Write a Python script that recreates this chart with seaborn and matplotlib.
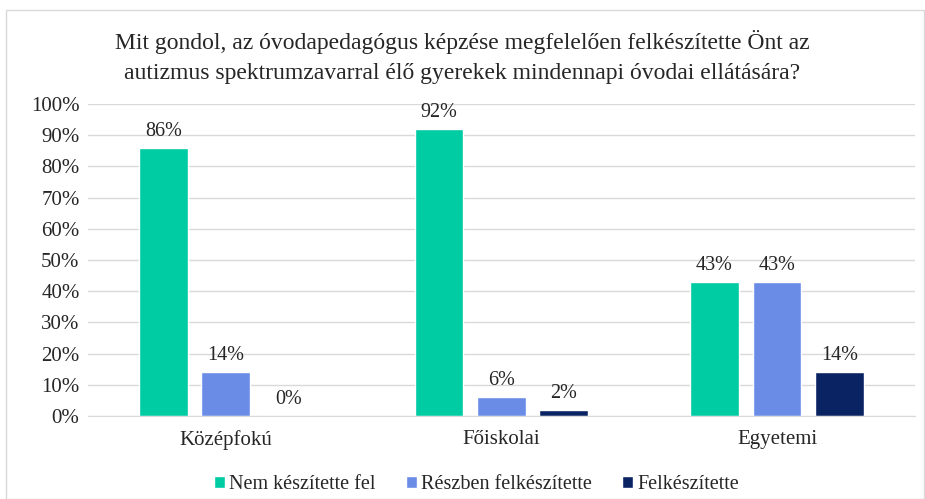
import matplotlib
matplotlib.use("Agg")
import matplotlib.pyplot as plt
import matplotlib.patches as mpatches
import pandas as pd
import seaborn as sns

# Data
categories = ["Középfokú", "Főiskolai", "Egyetemi"]
series = ["Nem készítette fel", "Részben felkészítette", "Felkészítette"]
nem = [0.86, 0.92, 0.43]
reszben = [0.14, 0.06, 0.43]
felk = [0.00, 0.02, 0.14]
colors = ["#00CCA3", "#6A8CE6", "#0A2463"]

rows = []
for name, vals in zip(series, [nem, reszben, felk]):
    for c, v in zip(categories, vals):
        rows.append({"kategoria": c, "valasz": name, "arany": v})
df = pd.DataFrame(rows)

sns.set_style("white")
plt.rcParams["font.family"] = ["Liberation Serif", "DejaVu Serif"]

fig = plt.figure(figsize=(9.25, 4.99), dpi=100)
ax = fig.add_axes([0.095, 0.166, 0.894, 0.626])

sns.barplot(data=df, x="kategoria", y="arany", hue="valasz", palette=colors,
            saturation=1, width=0.68, gap=0.22, ax=ax, legend=True)

ax.set_ylim(0, 1.0)
ax.set_yticks([i / 10 for i in range(11)])
ax.set_yticklabels([f"{i * 10}%" for i in range(11)], fontsize=15)
ax.tick_params(axis="x", labelsize=15, length=0, pad=10)
ax.tick_params(axis="y", length=0, pad=6)
ax.yaxis.grid(True, color="#D9D9D9", linewidth=1)
ax.set_axisbelow(True)
for s in ["top", "right", "left"]:
    ax.spines[s].set_visible(False)
ax.spines["bottom"].set_color("#D9D9D9")
ax.set_xlabel("")
ax.set_ylabel("")

for cont in ax.containers:
    ax.bar_label(cont, labels=[f"{v * 100:.0f}%" for v in cont.datavalues],
                 padding=5, fontsize=14.5)

ax.legend(loc="upper center", bbox_to_anchor=(0.47, -0.13), ncol=3,
          frameon=False, fontsize=14.5, handlelength=0.55, handleheight=0.55,
          handletextpad=0.2, columnspacing=1.5)

fig.text(0.5, 0.915, "Mit gondol, az óvodapedagógus képzése megfelelően felkészítette Önt az",
         ha="center", va="center", fontsize=17)
fig.text(0.5, 0.853, "autizmus spektrumzavarral élő gyerekek mindennapi óvodai ellátására?",
         ha="center", va="center", fontsize=17)

fig.patches.append(mpatches.Rectangle((0.006, 0.0), 0.993, 0.98, transform=fig.transFigure,
                                      fill=False, edgecolor="#D9D9D9", linewidth=1))

fig.savefig("out.png", dpi=100)
